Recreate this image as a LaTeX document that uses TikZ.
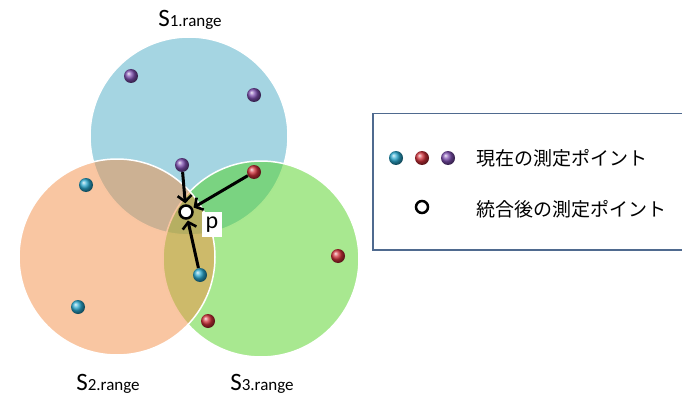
\documentclass[tikz,border=0pt]{standalone}
\usepackage{fontspec}
\setmainfont{Carlito}
\newfontfamily\jpfont{Noto Sans CJK JP}
\usetikzlibrary{arrows.meta}
\definecolor{cblue}{HTML}{4BABC5}
\definecolor{corange}{HTML}{F38D45}
\definecolor{cgreen}{HTML}{51D121}
\definecolor{bcyan}{HTML}{2BA9CF}
\definecolor{bred}{HTML}{D0313A}
\definecolor{bpurple}{HTML}{7E4FB0}
\definecolor{legborder}{HTML}{4F6A8F}
\tikzset{
  rangefill/.style={fill opacity=0.5},
  rangeedge/.style={draw=white, line width=1.5pt},
  ballpt/.style={circle, inner sep=0pt, minimum size=14pt, shading=ball},
  arr/.style={-{Straight Barb[length=6pt,width=14pt,line width=2.6pt]}, line width=3pt, black, shorten >=1pt},
  lbl/.style={font=\fontsize{17}{17}\selectfont, inner sep=0pt},
  jp/.style={font=\jpfont\fontsize{19}{19}\selectfont, anchor=west, inner sep=0pt},
  openpt/.style={circle, draw=black, fill=white, line width=2.5pt, inner sep=0pt},
}
\newcommand{\Slabel}[1]{{\fontsize{25}{25}\selectfont S}#1}
\begin{document}
\begin{tikzpicture}[x=1pt,y=-1pt]
\useasboundingbox (0,0) rectangle (682,401);
% circles
\fill[cblue, rangefill] (189,136) circle (99);
\draw[rangeedge] (189,136) circle (99);
\fill[cgreen, rangefill] (261,259) circle (98);
\draw[rangeedge] (261,259) circle (98);
\fill[corange, rangefill] (117,257) circle (98);
\draw[rangeedge] (117,257) circle (98);
% labels
\node[lbl] (s1) at (190,20) {\Slabel{1.range}};
\node[lbl] (s2) at (108,384) {\Slabel{2.range}};
\node[lbl] (s3) at (262,384) {\Slabel{3.range}};
% points
\node[ballpt, ball color=bpurple] (pu1) at (131,76) {};
\node[ballpt, ball color=bpurple] (pu2) at (254,95) {};
\node[ballpt, ball color=bpurple] (pu3) at (182,165) {};
\node[ballpt, ball color=bcyan] (cy1) at (86,185) {};
\node[ballpt, ball color=bcyan] (cy2) at (78,307) {};
\node[ballpt, ball color=bcyan] (cy3) at (200,275) {};
\node[ballpt, ball color=bred] (re1) at (254,172) {};
\node[ballpt, ball color=bred] (re2) at (338,256) {};
\node[ballpt, ball color=bred] (re3) at (208,321) {};
% merged point
\node[openpt, minimum size=13pt] (p) at (186,212) {};
\node[fill=white, inner sep=0pt, minimum width=20pt, minimum height=25pt, font=\fontsize{24}{24}\selectfont] (plbl) at (212,224.5) {p};
% arrows
\draw[arr] (pu3) -- (p);
\draw[arr] (re1) -- (p);
\draw[arr] (cy3) -- (p);
% legend
\node[draw=legborder, line width=1.5pt, fill=white, minimum width=330pt, minimum height=136pt, anchor=north west, inner sep=0pt] (leg) at (372,113) {};
\node[ballpt, ball color=bcyan] (lc) at (396,158) {};
\node[ballpt, ball color=bred] (lr) at (422,158) {};
\node[ballpt, ball color=bpurple] (lp) at (448,158) {};
\node[jp] (t1) at (476,158) {現在の測定ポイント};
\node[openpt, minimum size=12pt] (lo) at (422,207) {};
\node[jp] (t2) at (476,209) {統合後の測定ポイント};
\end{tikzpicture}
\end{document}
